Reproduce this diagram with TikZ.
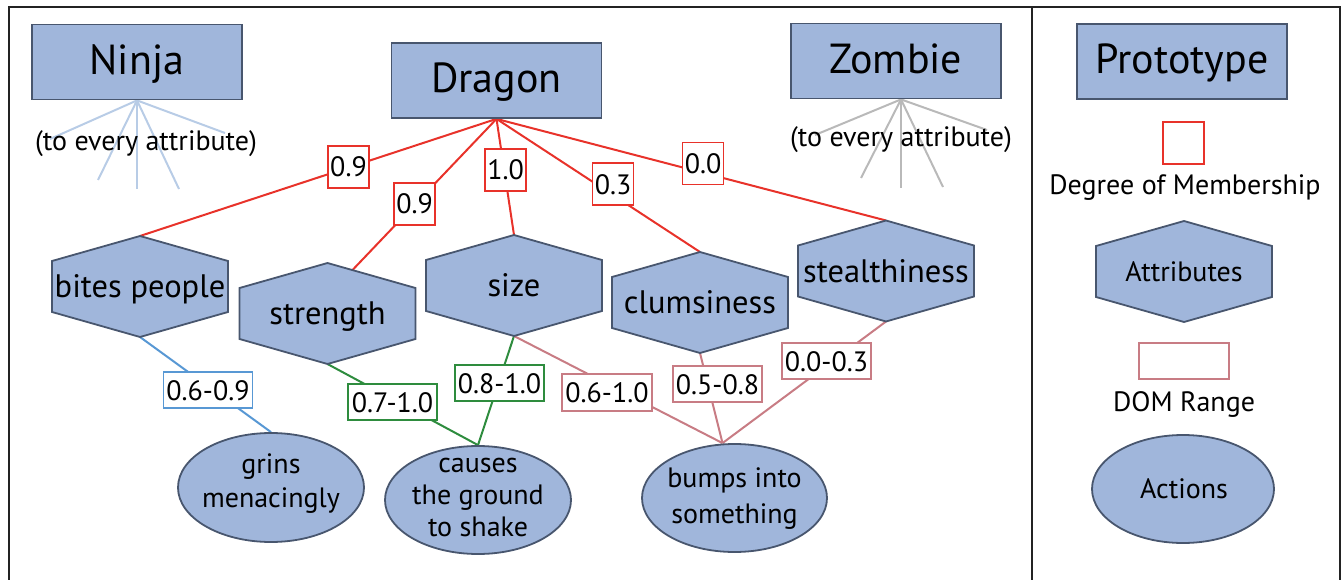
\documentclass[tikz,border=0pt]{standalone}
\usepackage{fontspec}
\setmainfont{PT Sans}
\usetikzlibrary{shapes.geometric,calc}
\pgfdeclarelayer{edges}
\pgfdeclarelayer{shapes}
\pgfsetlayers{edges,shapes,main}
\definecolor{boxfill}{RGB}{160,182,219}
\definecolor{boxline}{RGB}{72,86,110}
\definecolor{memred}{RGB}{232,50,42}
\definecolor{domblue}{RGB}{88,152,212}
\definecolor{domgreen}{RGB}{46,140,62}
\definecolor{dompink}{RGB}{200,124,132}
\definecolor{ninjafan}{RGB}{184,204,230}
\definecolor{zombiefan}{RGB}{185,185,185}
\definecolor{framecol}{RGB}{35,35,35}
\begin{document}
\begin{tikzpicture}[x=1pt,y=-1pt,
  title/.style={draw=boxline,fill=boxfill,line width=1.8pt,minimum width=210pt,minimum height=75pt,inner sep=0pt,text height=25pt,text depth=0pt,font=\fontsize{42}{50}\selectfont},
  hextext/.style={inner sep=0pt,text height=22pt,text depth=0pt,font=\fontsize{32.5}{38}\selectfont},
  hexshape/.style={draw=boxline,fill=boxfill,line width=1.8pt,line join=miter},
  action/.style={ellipse,draw=boxline,fill=boxfill,line width=1.8pt,minimum width=186pt,minimum height=109pt,inner sep=0pt},
  acttext/.style={align=center,inner sep=0pt,font=\fontsize{28}{34}\selectfont},
  memlab/.style={draw=memred,fill=white,line width=1.8pt,minimum width=41pt,minimum height=42pt,inner sep=0pt,text height=20pt,text depth=0pt,font=\fontsize{28}{34}\selectfont},
  domlab/.style={fill=white,line width=1.8pt,minimum width=89pt,minimum height=36pt,inner sep=0pt,text height=20pt,text depth=0pt,font=\fontsize{28}{34}\selectfont},
  note/.style={inner sep=0pt,font=\fontsize{28}{34}\selectfont},
  memline/.style={draw=memred,line width=2pt},
  blueline/.style={draw=domblue,line width=2pt},
  greenline/.style={draw=domgreen,line width=2pt},
  pinkline/.style={draw=dompink,line width=2pt},
  ninjaline/.style={draw=ninjafan,line width=2pt},
  zombieline/.style={draw=zombiefan,line width=2pt},
  framestyle/.style={draw=framecol,line width=1.6pt}
]
\useasboundingbox (0,0) rectangle (1343,580);
% frame
\path[framestyle] (9,580) -- (9,7) -- (1340,7) -- (1340,580);
\path[framestyle] (1032,7) -- (1032,580);

% prototype boxes
\node[title] (ninja) at (137,62) {Ninja};
\node[title] (dragon) at (496.5,80.5) {Dragon};
\node[title] (zombie) at (896,61) {Zombie};
\node[title] (proto) at (1182,61.5) {Prototype};

% fan notes
\node[note] (ninjanote) at (146,144) {(to every attribute)};
\node[note] (zombienote) at (901,140) {(to every attribute)};

% attribute texts
\node[hextext] (bites) at (140,286.5) {bites people};
\node[hextext] (strength) at (327.5,313.5) {strength};
\node[hextext] (hsize) at (514,285.5) {size};
\node[hextext] (clum) at (700,302.5) {clumsiness};
\node[hextext] (stealth) at (886,271) {stealthiness};
\node[hextext,font=\fontsize{28}{34}\selectfont,text height=19pt] (attr) at (1184,271.5) {Attributes};

% hexagon outlines
\begin{pgfonlayer}{shapes}
\foreach \n in {bites,strength,hsize,clum,stealth,attr}{
  \path[hexshape] ($(\n)+(0,-50.5)$) -- ++(88,25) -- ++(0,51) -- ++(-88,25) -- ++(-88,-25) -- ++(0,-51) -- cycle;
}
\end{pgfonlayer}
\foreach \n in {bites,strength,hsize,clum,stealth}{
  \coordinate (\n-t) at ($(\n)+(0,-50.5)$);
  \coordinate (\n-b) at ($(\n)+(0,50.5)$);
}
\coordinate (strength-in) at ($(dragon.south)!1.15!(353,269.5)$);

% actions
\node[action] (grins) at (271,487.5) {};
\node[acttext] (grinstext) at (271,484) {grins\\menacingly};
\node[action,minimum height=108pt] (causes) at (478,500) {};
\node[acttext,font=\fontsize{28}{32}\selectfont] (causestext) at (478,497) {causes\\the ground\\to shake};
\node[action,minimum width=185pt,minimum height=108pt] (bumps) at (734.5,498) {};
\node[acttext,font=\fontsize{28}{36}\selectfont] (bumpstext) at (734.5,499) {bumps into\\something};
\coordinate (bumps-in) at ($(bumps.north)+(-12,0)$);

% legend
\node[memlab] (legmem) at (1183.5,143) {};
\node[note] (legmemtext) at (1185,188) {Degree of Membership};
\node[domlab,draw=dompink,minimum width=90pt] (legdom) at (1184,361) {};
\node[note] (legdomtext) at (1184,404) {DOM Range};
\node[action,minimum width=182pt,minimum height=108pt] (legact) at (1183,489) {};
\node[note] (legacttext) at (1184,489) {Actions};

% fan end points
\coordinate (nf1) at (50,139);
\coordinate (nf2) at (98,180);
\coordinate (nf3) at (137,189);
\coordinate (nf4) at (179,189);
\coordinate (nf5) at (225,133);
\coordinate (zf) at ($(zombie.south)+(5,0)$);
\coordinate (zf1) at (815,135);
\coordinate (zf2) at (861,178);
\coordinate (zf3) at (901,188);
\coordinate (zf4) at (943,187);
\coordinate (zf5) at (987,130);

% membership labels
\node[memlab] (m1) at (348.5,167) {0.9};
\node[memlab] (m2) at (414.5,204) {0.9};
\node[memlab] (m3) at (505.5,170) {1.0};
\node[memlab] (m4) at (613,184) {0.3};
\node[memlab] (m5) at (703,163.5) {0.0};

% DOM range labels
\node[domlab,draw=domblue] (d1) at (208,390) {0.6-0.9};
\node[domlab,draw=domgreen] (d2) at (392.5,402) {0.7-1.0};
\node[domlab,draw=domgreen] (d3) at (499.5,383) {0.8-1.0};
\node[domlab,draw=dompink,minimum width=90pt,minimum height=37pt] (d4) at (607,392.5) {0.6-1.0};
\node[domlab,draw=dompink] (d5) at (717.5,384) {0.5-0.8};
\node[domlab,draw=dompink] (d6) at (826.5,361) {0.0-0.3};

\begin{pgfonlayer}{edges}
\foreach \e in {nf1,nf2,nf3,nf4,nf5}{\draw[ninjaline] (ninja.south) -- (\e);}
\foreach \e in {zf1,zf2,zf3,zf4,zf5}{\draw[zombieline] (zf) -- (\e);}
\draw[memline] (dragon.south) -- (bites-t);
\draw[memline] (dragon.south) -- (strength-in);
\draw[memline] (dragon.south) -- (hsize-t);
\draw[memline] (dragon.south) -- (clum-t);
\draw[memline] (dragon.south) -- (stealth-t);
\draw[blueline] (bites-b) -- (grins.north);
\draw[greenline] (strength-b) -- (causes.north);
\draw[greenline] (hsize-b) -- (causes.north);
\draw[pinkline] (hsize-b) -- (bumps-in);
\draw[pinkline] (clum-b) -- (bumps-in);
\draw[pinkline] (stealth-b) -- (bumps-in);
\end{pgfonlayer}
\end{tikzpicture}
\end{document}
